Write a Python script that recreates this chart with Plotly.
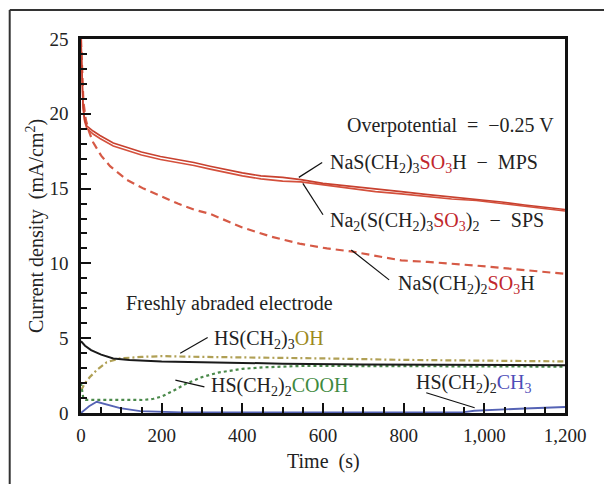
import plotly.graph_objects as go

# ---------------- data ----------------
t_mps = [0, 2, 5, 9, 14, 30, 47, 80, 113, 150, 197, 240, 280, 320, 363, 400, 446, 500, 545,
         600, 670, 730, 794, 860, 919, 980, 1043, 1100, 1150, 1200]
y_mps = [25, 22.5, 20.6, 19.6, 19.2, 18.85, 18.55, 18.05, 17.75, 17.45, 17.15, 16.95, 16.75, 16.5,
         16.25, 16.05, 15.85, 15.75, 15.6, 15.35, 15.15, 15.0, 14.8, 14.6, 14.45, 14.3, 14.1, 13.9, 13.75, 13.6]

t_sps = [0, 2, 5, 9, 14, 30, 47, 80, 113, 150, 197, 240, 280, 320, 363, 400, 446, 500, 545,
         600, 670, 730, 794, 860, 919, 980, 1043, 1100, 1150, 1200]
y_sps = [25, 22.3, 20.4, 19.5, 19.05, 18.65, 18.35, 17.85, 17.55, 17.25, 16.95, 16.75, 16.55, 16.3,
         16.05, 15.85, 15.65, 15.5, 15.45, 15.25, 15.0, 14.8, 14.65, 14.45, 14.3, 14.2, 14.0, 13.85, 13.7, 13.5]

t_mes = [0, 3, 6, 12, 20, 30, 50, 72, 113, 155, 197, 240, 280, 321, 400, 470, 545, 610, 670,
         730, 794, 860, 919, 980, 1043, 1120, 1200]
y_mes = [25, 22.5, 20.8, 19.6, 18.8, 18.1, 17.2, 16.5, 15.6, 15.0, 14.5, 14.0, 13.6, 13.3, 12.4,
         11.8, 11.3, 11.0, 10.8, 10.5, 10.2, 10.1, 10.0, 9.85, 9.7, 9.5, 9.3]

t_blk = [0, 10, 25, 50, 80, 120, 200, 300, 400, 500, 700, 900, 1200]
y_blk = [4.8, 4.5, 4.2, 3.9, 3.65, 3.55, 3.45, 3.4, 3.35, 3.3, 3.25, 3.22, 3.2]

t_oh = [0, 10, 22, 40, 64, 97, 150, 200, 300, 400, 500, 600, 800, 1000, 1200]
y_oh = [1.5, 2.0, 2.4, 2.9, 3.4, 3.65, 3.75, 3.8, 3.75, 3.72, 3.7, 3.65, 3.55, 3.5, 3.45]

t_cooh = [0, 3, 6, 12, 50, 100, 155, 180, 200, 230, 260, 300, 340, 400, 450, 550, 700, 850, 1000, 1200]
y_cooh = [2.0, 1.3, 0.95, 0.88, 0.87, 0.87, 0.87, 0.95, 1.1, 1.5, 1.95, 2.4, 2.7, 2.95, 3.05, 3.15, 3.15, 3.1, 3.1, 3.1]

t_ch3 = [0, 20, 39, 60, 97, 147, 200, 250, 400, 600, 800, 950, 975, 1050, 1100, 1200]
y_ch3 = [0.0, 0.45, 0.75, 0.6, 0.33, 0.12, 0.06, 0.04, 0.04, 0.04, 0.04, 0.06, 0.15, 0.25, 0.3, 0.4]

x_ticks = [0, 200, 400, 600, 800, 1000, 1200]
x_tick_text = ["0", "200", "400", "600", "800", "1,000", "1,200"]
y_ticks = [0, 5, 10, 15, 20, 25]

RED = "#c1272d"
FONT = "Liberation Serif"
EN = "\u2002"

fig = go.Figure()
fig.add_trace(go.Scatter(x=t_mes, y=y_mes, mode="lines",
                         line=dict(color="#d65a46", width=2.2, dash="8px,5px")))
fig.add_trace(go.Scatter(x=t_sps, y=y_sps, mode="lines",
                         line=dict(color="#d4503c", width=1.6)))
fig.add_trace(go.Scatter(x=t_mps, y=y_mps, mode="lines",
                         line=dict(color="#c8412f", width=1.6)))
fig.add_trace(go.Scatter(x=t_oh, y=y_oh, mode="lines",
                         line=dict(color="#b0a055", width=2.2, dash="6px,3px,2px,3px")))
fig.add_trace(go.Scatter(x=t_cooh, y=y_cooh, mode="lines",
                         line=dict(color="#4b8a4b", width=2.2, dash="3px,3px")))
fig.add_trace(go.Scatter(x=t_blk, y=y_blk, mode="lines",
                         line=dict(color="#1a1a1a", width=2)))
fig.add_trace(go.Scatter(x=t_ch3, y=y_ch3, mode="lines",
                         line=dict(color="#5563b5", width=1.8)))

# leader lines
leaders = [
    (540, 15.75, 598, 16.75),
    (550, 15.35, 600, 13.25),
    (670, 10.9, 764, 8.9),
    (246, 4.0, 314, 5.05),
    (234, 2.2, 306, 1.75),
    (856, 1.35, 976, 0.35),
]
for x0, y0, x1, y1 in leaders:
    fig.add_shape(type="line", xref="x", yref="y", x0=x0, y0=y0, x1=x1, y1=y1,
                  line=dict(color="#111", width=1.2))

def span(c, s):
    return f"<span style='color:{c}'>{s}</span>"

labels = [
    (655, 19.25, f"Overpotential{EN}={EN}\u22120.25 V"),
    (612, 16.7, "NaS(CH<sub>2</sub>)<sub>3</sub>" + span(RED, "SO<sub>3</sub>") + f"H{EN}\u2212{EN}MPS"),
    (612, 12.8, "Na<sub>2</sub>(S(CH<sub>2</sub>)<sub>3</sub>" + span(RED, "SO<sub>3</sub>") + f")<sub>2</sub>{EN}\u2212{EN}SPS"),
    (780, 8.6, "NaS(CH<sub>2</sub>)<sub>2</sub>" + span(RED, "SO<sub>3</sub>") + "H"),
    (106, 7.3, "Freshly abraded electrode"),
    (326, 4.9, "HS(CH<sub>2</sub>)<sub>3</sub>" + span("#9c8a1c", "OH")),
    (318, 1.75, "HS(CH<sub>2</sub>)<sub>2</sub>" + span("#3f8a3f", "COOH")),
    (826, 1.95, "HS(CH<sub>2</sub>)<sub>2</sub>" + span("#4e4eb8", "CH<sub>3</sub>")),
]
for x, y, txt in labels:
    fig.add_annotation(x=x, y=y, xref="x", yref="y", text=txt, showarrow=False,
                       xanchor="left", yanchor="middle",
                       font=dict(family=FONT, size=20, color="#222"))

# axis titles
fig.add_annotation(x=-0.095, y=0.5, xref="paper", yref="paper", textangle=-90,
                   xanchor="center", yanchor="middle",
                   text="Current density  (mA/cm<sup>2</sup>)", showarrow=False,
                   font=dict(family=FONT, size=20, color="#222"))
fig.add_annotation(x=0.5, y=-0.131, xref="paper", yref="paper",
                   xanchor="center", yanchor="middle",
                   text="Time  (s)", showarrow=False,
                   font=dict(family=FONT, size=20, color="#222"))

# outer frame (open at right / bottom)
fig.add_shape(type="line", xref="paper", yref="paper", x0=-0.1473, y0=-0.3, x1=-0.1473, y1=1.0775,
              line=dict(color="#333", width=2))
fig.add_shape(type="line", xref="paper", yref="paper", x0=-0.1473, y0=1.0775, x1=1.2, y1=1.0775,
              line=dict(color="#333", width=2))

axis_common = dict(showline=True, linecolor="#111", linewidth=2.5, mirror=True,
                   ticks="inside", ticklen=10, tickwidth=2, tickcolor="#111",
                   showgrid=False, zeroline=False,
                   tickfont=dict(family=FONT, size=19, color="#222"))

fig.update_xaxes(range=[0, 1200], tickvals=x_ticks, ticktext=x_tick_text,
                 minor=dict(dtick=50, ticks="inside", ticklen=6, tickwidth=1.5, tickcolor="#111"),
                 ticklabelstandoff=3, **axis_common)
fig.update_yaxes(range=[0, 25], tickvals=y_ticks,
                 minor=dict(dtick=1, ticks="inside", ticklen=6, tickwidth=1.5, tickcolor="#111"),
                 ticklabelstandoff=6, **axis_common)

fig.update_layout(width=604, height=484, showlegend=False,
                  margin=dict(l=81, r=39, t=39, b=71),
                  paper_bgcolor="white", plot_bgcolor="white")

fig.write_html("out.html")
